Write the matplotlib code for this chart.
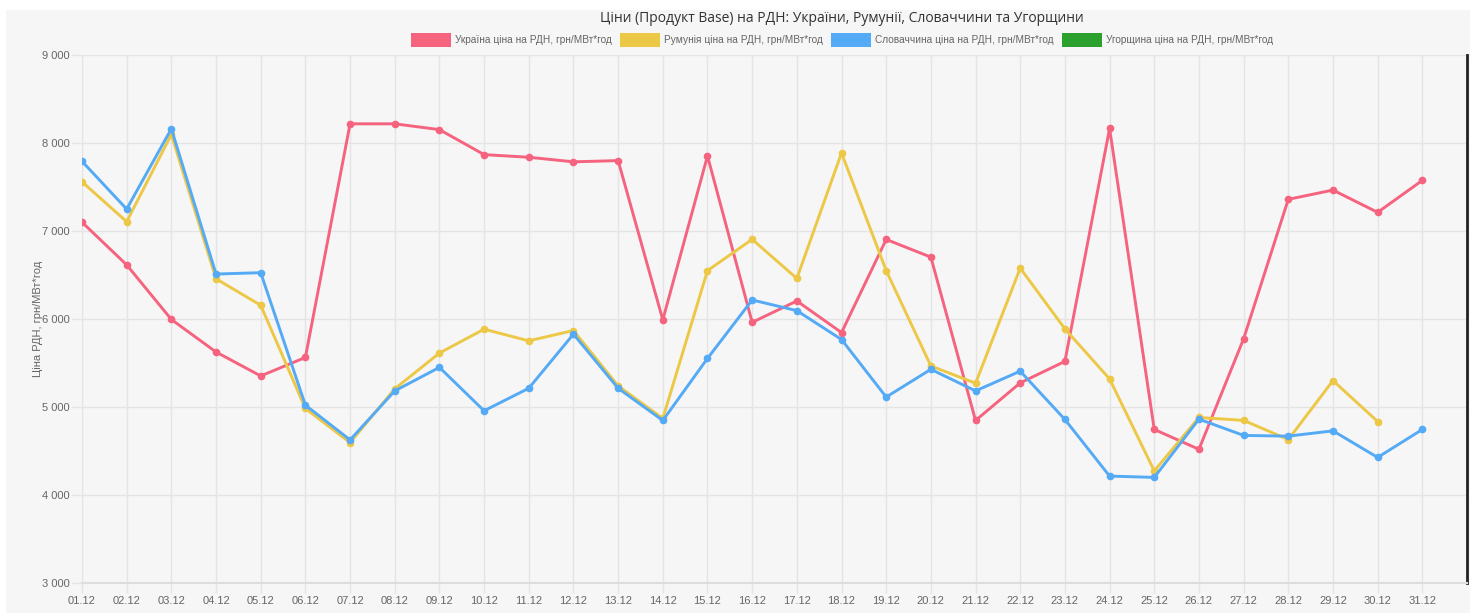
import matplotlib
matplotlib.use('Agg')
import matplotlib.pyplot as plt
from matplotlib.patches import Patch, Rectangle
import numpy as np

# ---------------- Data ----------------
days = [f"{d:02d}.12" for d in range(1, 32)]

ukraine = [7100, 6615, 5995, 5625, 5353, 5563, 8218, 8218, 8152, 7868,
           7838, 7786, 7800, 5990, 7853, 5962, 6205, 5846, 6904, 6703,
           4847, 5274, 5518, 8165, 4745, 4519, 5775, 7360, 7465, 7212, 7575]
romania = [7559, 7106, 8097, 6457, 6156, 4983, 4595, 5206, 5613, 5884,
           5752, 5869, 5240, 4870, 6550, 6905, 6461, 7887, 6550, 5466,
           5270, 6578, 5888, 5319, 4274, 4881, 4848, 4630, 5300, 4835, np.nan]
slovakia = [7792, 7249, 8162, 6511, 6526, 5021, 4626, 5183, 5450, 4957,
            5213, 5828, 5213, 4847, 5552, 6216, 6095, 5767, 5113, 5428,
            5183, 5407, 4858, 4215, 4200, 4862, 4677, 4669, 4729, 4427, 4745]
hungary = []  # no data, legend only

series_names = ["Україна ціна на РДН, грн/МВт*год",
                "Румунія ціна на РДН, грн/МВт*год",
                "Словаччина ціна на РДН, грн/МВт*год",
                "Угорщина ціна на РДН, грн/МВт*год"]
colors = ['#f5637f', '#ecc846', '#55aaf5', '#2ca02c']

y_ticks = [3000, 4000, 5000, 6000, 7000, 8000, 9000]

# ---------------- Plot ----------------
BG = '#f6f6f6'
GRID = '#e4e4e4'
TXT = '#666666'
NARROW = ['Liberation Sans Narrow', 'Liberation Sans', 'DejaVu Sans']

fig = plt.figure(figsize=(14.7, 6.13), dpi=100, facecolor='white')
fig.patches.append(Rectangle((6/1470, 0), 1 - 6/1470, 1 - 10/613,
                             transform=fig.transFigure, facecolor=BG,
                             edgecolor='none', zorder=-10))
ax = fig.add_axes([82/1470, 1 - 583/613, (1467 - 82)/1470, (583 - 55)/613])
ax.set_facecolor(BG)

x = np.arange(len(days))
for vals, c in zip([ukraine, romania, slovakia], colors[:3]):
    ax.plot(x, vals, color=c, lw=2.1, marker='o', ms=4.5, mec=c, mfc=c,
            solid_joinstyle='round', zorder=3)

ax.set_xlim(0, len(days))
ax.set_ylim(3000, 9000)
ax.set_xticks(x)
ax.set_xticklabels(days)
ax.set_yticks(y_ticks)
ax.set_yticklabels([f"{v:,}".replace(',', ' ') for v in y_ticks])

ax.grid(True, color=GRID, lw=1, zorder=0)
ax.tick_params(axis='both', colors=GRID, labelcolor=TXT, labelsize=8, length=7, width=1)
ax.tick_params(axis='x', pad=2)
ax.tick_params(axis='y', pad=2, right=False)
for lab in ax.get_xticklabels() + ax.get_yticklabels():
    lab.set_family(NARROW)

ax.spines['top'].set_visible(False)
ax.spines['left'].set_color(GRID)
ax.spines['bottom'].set_color('#dddddd')
ax.spines['bottom'].set_linewidth(1.5)
ax.spines['right'].set_color('#222222')
ax.spines['right'].set_linewidth(2)

ax.set_ylabel("Ціна РДН, грн/МВт*год", color=TXT, fontsize=8,
              family=NARROW, labelpad=-1)

fig.text(842/1470, 1 - 18/613,
         "Ціни (Продукт Base) на РДН: України, Румунії, Словаччини та Угорщини",
         ha='center', va='center', fontsize=10, color='#333333',
         family=['Open Sans', 'DejaVu Sans'])

handles = [Patch(facecolor=c, edgecolor='none') for c in colors]
fig.legend(handles, series_names, loc='center', bbox_to_anchor=(842/1470, 1 - 40/613),
           ncol=4, frameon=False, handlelength=3.95, handleheight=1.7,
           handletextpad=0.4, columnspacing=0.8, labelcolor=TXT,
           prop={'family': NARROW, 'size': 7.3})

fig.savefig('out.png', dpi=100, facecolor='white')
